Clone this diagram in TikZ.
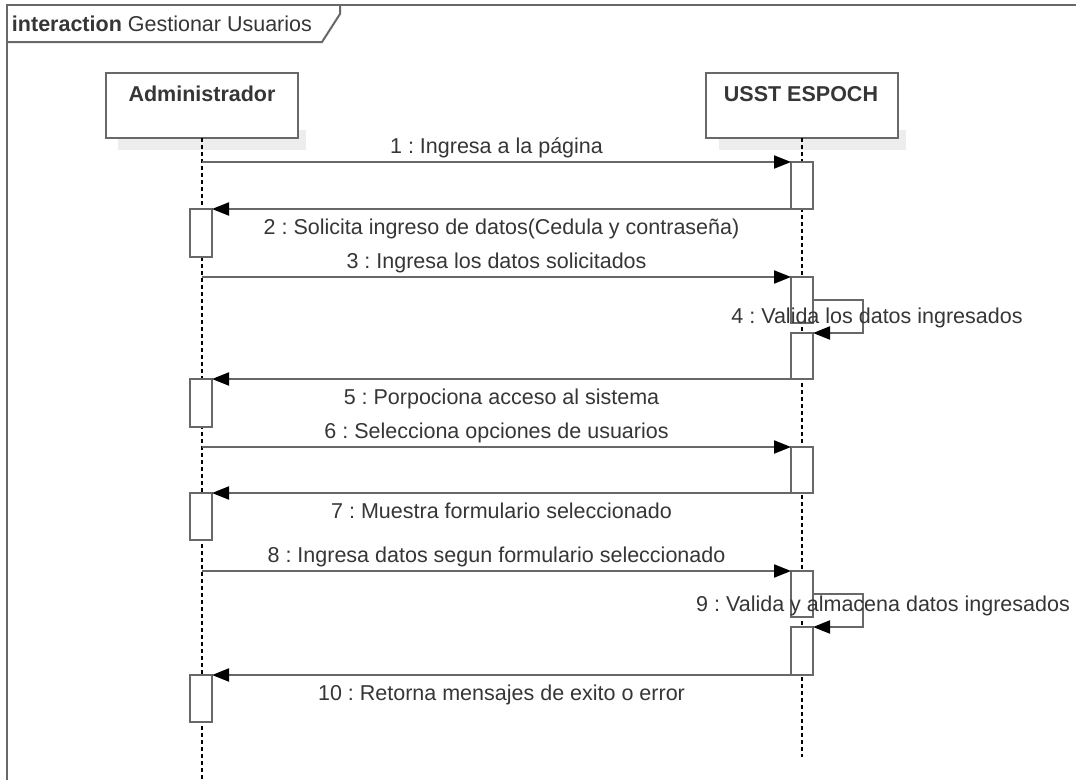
\documentclass[tikz,border=0pt]{standalone}
\usepackage{fontspec}
\setmainfont{Liberation Sans}
\usetikzlibrary{arrows.meta}
\definecolor{linegray}{HTML}{686868}
\definecolor{textgray}{HTML}{363636}
\definecolor{shadowgray}{HTML}{EDEDED}
\frenchspacing

\begin{document}
\begin{tikzpicture}[x=1pt,y=-1pt,
  every node/.style={font=\fontsize{21.5}{24}\selectfont, text=textgray, inner sep=0pt, outer sep=0pt},
  frameline/.style={draw=linegray, line width=2pt},
  actorbox/.style={draw=linegray, line width=2pt, fill=white, minimum width=192pt, minimum height=65pt},
  actorname/.style={font=\fontsize{21.5}{24}\selectfont\bfseries, anchor=base},
  lifeline/.style={draw=black, line width=1.3pt, dash pattern=on 4pt off 3pt},
  actbox/.style={draw=linegray, line width=2pt, fill=white, minimum width=22pt, anchor=north},
  msg/.style={draw=linegray, line width=2pt, -{Triangle[length=17pt,width=13pt,fill=black,color=black]}},
  labelabove/.style={anchor=base, yshift=9pt},
  labelbelow/.style={anchor=base, yshift=-25pt},
  selflabel/.style={anchor=base},
]
\useasboundingbox (0,0) rectangle (1076,780);
\fill[white] (0,0) rectangle (1076,780);

% interaction frame and its name tag
\draw[frameline] (7,780) -- (7,5) -- (1076,5);
\draw[frameline] (7,42) -- (322,42) -- (340,14) -- (340,5);
\node[anchor=base west] (title) at (12,31) {\textbf{interaction} Gestionar Usuarios};

% soft shadows under the lifeline heads
\fill[shadowgray] (118,130) rectangle (306,150);
\fill[shadowgray] (719,130) rectangle (906,150);

% lifeline heads
\node[actorbox] (adm) at (202,105.5) {};
\node[actorname] (admname) at (202,101) {Administrador};
\node[actorbox] (sys) at (802,105.5) {};
\node[actorname] (sysname) at (801,101) {USST ESPOCH};

% lifelines
\coordinate (admend) at (202,780);
\coordinate (sysend) at (802,757);
\draw[lifeline] (adm.south) -- (admend);
\draw[lifeline] (sys.south) -- (sysend);

% execution specifications on the system lifeline
\node[actbox, minimum height=47pt] (s1) at (802,162) {};
\node[actbox, minimum height=46pt] (s2) at (802,277) {};
\node[actbox, minimum height=46pt] (s3) at (802,333) {};
\node[actbox, minimum height=46pt] (s4) at (802,447) {};
\node[actbox, minimum height=46pt] (s5) at (802,571) {};
\node[actbox, minimum height=48pt] (s6) at (802,627) {};

% execution specifications on the administrator lifeline
\node[actbox, minimum height=48pt] (a1) at (201,209) {};
\node[actbox, minimum height=48pt] (a2) at (201,379) {};
\node[actbox, minimum height=47pt] (a3) at (201,493) {};
\node[actbox, minimum height=47pt] (a4) at (201,675) {};

% messages
\draw[msg] (s1.north west -| adm.south) -- node[labelabove] (m1) {1 : Ingresa a la página} (s1.north west);
\draw[msg] (s1.south west) -- node[labelbelow] (m2) {2 : Solicita ingreso de datos(Cedula y contraseña)} (a1.north east);
\draw[msg] (s2.north west -| adm.south) -- node[labelabove] (m3) {3 : Ingresa los datos solicitados} (s2.north west);
\draw[msg] (s2.east) -- ++(50,0) |- (s3.north east);
\node[selflabel] (m4) at (877,323) {4 : Valida los datos ingresados};
\draw[msg] (s3.south west) -- node[labelbelow] (m5) {5 : Porpociona acceso al sistema} (a2.north east);
\draw[msg] (s4.north west -| adm.south) -- node[labelabove] (m6) {6 : Selecciona opciones de usuarios} (s4.north west);
\draw[msg] (s4.south west) -- node[labelbelow] (m7) {7 : Muestra formulario seleccionado} (a3.north east);
\draw[msg] (s5.north west -| adm.south) -- node[labelabove] (m8) {8 : Ingresa datos segun formulario seleccionado} (s5.north west);
\draw[msg] (s5.east) -- ++(50,0) |- (s6.north east);
\node[selflabel] (m9) at (883,611) {9 : Valida y almacena datos ingresados};
\draw[msg] (s6.south west) -- node[labelbelow] (m10) {10 : Retorna mensajes de exito o error} (a4.north east);
\end{tikzpicture}
\end{document}
